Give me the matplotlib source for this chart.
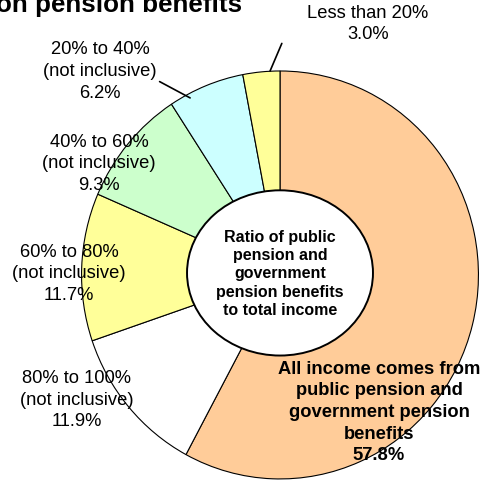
import matplotlib
matplotlib.use("Agg")
import matplotlib.pyplot as plt
from matplotlib.patches import Ellipse

plt.rcParams['font.family'] = ['Liberation Sans', 'DejaVu Sans']

# slices, clockwise from 12 o'clock
shares = [57.8, 11.9, 11.7, 9.3, 6.2, 3.0]
names = ["All income comes from\npublic pension and\ngovernment pension\nbenefits",
         "80% to 100%\n(not inclusive)",
         "60% to 80%\n(not inclusive)",
         "40% to 60%\n(not inclusive)",
         "20% to 40%\n(not inclusive)",
         "Less than 20%"]
colors = ['#FFCC99', '#FFFFFF', '#FFFF99', '#CCFFCC', '#CCFFFF', '#FFFF99']
center_text = "Ratio of public\npension and\ngovernment\npension benefits\nto total income"
title = "on pension benefits"

fig = plt.figure(figsize=(4.84, 4.82), dpi=100)
ax = fig.add_axes([0, 0, 1, 1])

ax.pie(shares, colors=colors, startangle=90, counterclock=False,
       wedgeprops=dict(edgecolor='black', linewidth=0.8))
ax.set_aspect('auto')
ax.set_xlim(-1.411, 1.028)
ax.set_ylim(-1.015, 1.348)

# white hole in the middle
ax.add_patch(Ellipse((0, 0.01), 0.937, 0.81, facecolor='white',
                     edgecolor='black', linewidth=1.4, zorder=5))
ax.text(0, 0.005, center_text, ha='center', va='center', fontsize=11.5,
        fontweight='bold', linespacing=1.26, zorder=6)

lbl = [f"{n}\n{v:.1f}%" for n, v in zip(names, shares)]
ls = 1.36

# main slice label (bold)
ax.text(0.499, -0.674, lbl[0], ha='center', va='center', fontsize=13.2,
        fontweight='bold', linespacing=ls, zorder=6)
ax.text(-1.023, -0.613, lbl[1], ha='center', va='center', fontsize=13.2, linespacing=ls)
ax.text(-1.063, 0.005, lbl[2], ha='center', va='center', fontsize=13.2, linespacing=ls)
ax.text(-0.912, 0.544, lbl[3], ha='center', va='center', fontsize=13.2, linespacing=ls)
ax.annotate(lbl[4], xy=(-0.453, 0.868), xytext=(-0.907, 0.997),
            ha='center', va='center', fontsize=13.2, linespacing=ls,
            arrowprops=dict(arrowstyle='-', color='black', lw=1.2,
                            shrinkA=0, shrinkB=0, relpos=(0.86, 0.5)))
ax.annotate(lbl[5], xy=(-0.05, 1.0), xytext=(0.443, 1.23),
            ha='center', va='center', fontsize=13.2, linespacing=ls,
            arrowprops=dict(arrowstyle='-', color='black', lw=1.2,
                            shrinkA=0, shrinkB=0, relpos=(-0.21, 0.0)))

fig.text(242 / 484, (482 - 12) / 482, title, ha='right', va='baseline',
         fontsize=18.7, fontweight='bold')

fig.savefig('out.png', dpi=100)
